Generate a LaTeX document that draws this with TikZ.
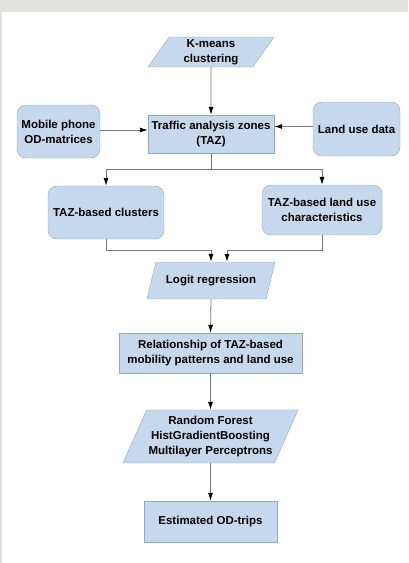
\documentclass[tikz,border=0pt]{standalone}
\usepackage{fontspec}
\setmainfont{Liberation Sans}
\usepackage{tikz}
\usetikzlibrary{shapes.geometric,arrows.meta,positioning}
\definecolor{boxblue}{RGB}{198,217,236}
\definecolor{edgeblue}{RGB}{140,168,204}
\definecolor{linegray}{RGB}{120,120,120}
\definecolor{framegray}{RGB}{227,225,220}

\begin{document}
\begin{tikzpicture}[x=1pt,y=-1pt,
    every node/.style={font=\fontsize{11.5}{15}\selectfont\bfseries, align=center, inner sep=0pt},
    proc/.style={draw=edgeblue, fill=boxblue, rectangle},
    src/.style={draw=edgeblue, fill=boxblue, rectangle, rounded corners=9pt},
    algo/.style={draw=edgeblue, fill=boxblue, trapezium, trapezium stretches body},
    arr/.style={draw=linegray, line width=0.8pt, -{Latex[length=8pt,width=5pt,color=black]}}]
    % frame
    \useasboundingbox (0,0) rectangle (408,563);
    \fill[framegray] (0,0) rectangle (408,12);
    \fill[framegray] (0,0) rectangle (2,563);
    % nodes
    \node[algo, trapezium left angle=50, trapezium right angle=130, minimum width=126pt, minimum height=30pt] (kmeans) at (211,52) {K-means\\clustering};
    \node[proc, minimum width=126pt, minimum height=38pt] (taz) at (211,134) {Traffic analysis zones\\(TAZ)};
    \node[src, minimum width=83pt, minimum height=53pt] (phone) at (58.5,131.5) {Mobile phone\\OD-matrices};
    \node[src, minimum width=87pt, minimum height=54pt] (landuse) at (356.5,129) {Land use data};
    \node[src, minimum width=116pt, minimum height=53pt] (clusters) at (106,212.5) {TAZ-based clusters};
    \node[src, minimum width=120pt, minimum height=50pt] (luchar) at (322,210) {TAZ-based land use\\characteristics};
    \node[algo, trapezium left angle=50, trapezium right angle=130, minimum width=128pt, minimum height=37pt] (logit) at (211,280.5) {Logit regression};
    \node[proc, minimum width=183pt, minimum height=40pt] (rel) at (210.5,353) {Relationship of TAZ-based\\mobility patterns and land use};
    \node[algo, trapezium left angle=60, trapezium right angle=120, minimum width=175pt, minimum height=53pt] (models) at (210.5,436.5) {Random Forest\\HistGradientBoosting\\Multilayer Perceptrons};
    \node[proc, minimum width=133pt, minimum height=41pt] (est) at (210.5,521.5) {Estimated OD-trips};
    % connectors
    \draw[arr] (kmeans.south) -- (taz.north);
    \draw[arr] ([yshift=1.5pt]phone.east) -- ([yshift=1.5pt]phone.east -| taz.west);
    \draw[arr] ([yshift=2.5pt]landuse.west) -- ([yshift=2.5pt]landuse.west -| taz.east);
    \draw[arr] (taz.south) -- ++(0,16) -| (clusters.north);
    \draw[arr] (taz.south) -- ++(0,16) -| (luchar.north);
    \draw[arr] (clusters.south) -- ++(0,11) -| (logit.north);
    \draw[arr] (luchar.south) -- ++(0,15) -| ([xshift=16pt]logit.north);
    \draw[arr] (logit.south) -- (rel.north);
    \draw[arr] (rel.south) -- (models.north);
    \draw[arr] (models.south) -- (est.north);
\end{tikzpicture}
\end{document}
